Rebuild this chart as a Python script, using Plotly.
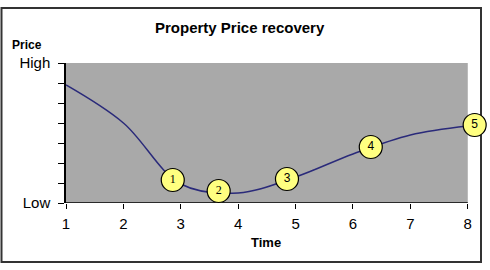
import plotly.graph_objects as go

# Curve data
time = [1, 2, 3, 4, 5, 6, 7, 8]
price = [5.9, 4.0, 0.95, 0.5, 1.3, 2.45, 3.4, 3.85]

# Numbered markers
mark_x = [2.86, 3.66, 4.85, 6.31, 8.12]
mark_y = [1.15, 0.6, 1.2, 2.8, 3.9]
mark_labels = ["1", "2", "3", "4", "5"]
mark_fonts = ["Liberation Serif", "Liberation Serif", "Liberation Sans", "Liberation Sans", "Liberation Sans"]

y_tickvals = [0, 1, 2, 3, 4, 5, 6, 7]
y_ticktext = ["Low", "", "", "", "", "", "", "High"]

X_MIN, X_MAX = 1, 8
Y_MIN, Y_MAX = 0, 7

fig = go.Figure()
fig.add_trace(go.Scatter(
    x=time, y=price, mode="lines",
    line=dict(color="#2a2a7a", width=1.5, shape="spline", smoothing=1.0),
    hoverinfo="skip", cliponaxis=False,
))
fig.add_trace(go.Scatter(
    x=mark_x, y=mark_y, mode="markers+text",
    text=mark_labels, textposition="middle center",
    textfont=dict(family=mark_fonts, size=12, color="black"),
    marker=dict(size=23, color="#ffff80", line=dict(color="black", width=1.2)),
    cliponaxis=False,
))

W0, PW, H0, PH = 66, 419, 203, 140
def px(x):
    return (x - W0) / PW
def py(y):
    return (H0 - y) / PH

fig.update_layout(
    width=490, height=270,
    margin=dict(l=66, r=5, t=63, b=67),
    paper_bgcolor="white", plot_bgcolor="white",
    showlegend=False,
    font=dict(family="Liberation Sans", color="black"),
    xaxis=dict(range=[X_MIN, 8.3], tickvals=time, ticks="outside", ticklen=5,
               tickwidth=1.2, tickcolor="black", showgrid=False, zeroline=False,
               showline=False, ticklabelstandoff=2,
               tickfont=dict(size=15, family="Liberation Sans")),
    yaxis=dict(range=[Y_MIN, Y_MAX], tickvals=y_tickvals, ticktext=y_ticktext,
               ticks="outside", ticklen=6, tickwidth=1.2, tickcolor="black",
               showgrid=False, zeroline=False, showline=True, linecolor="black",
               linewidth=1.5, ticklabelstandoff=5,
               tickfont=dict(size=15, family="Liberation Sans")),
    shapes=[
        dict(type="rect", xref="x", yref="y", x0=X_MIN, x1=X_MAX, y0=Y_MIN, y1=Y_MAX,
             line=dict(width=0), fillcolor="#a9a9a9", layer="below"),
        dict(type="line", xref="x", yref="y", x0=X_MIN, x1=X_MAX, y0=Y_MIN, y1=Y_MIN,
             line=dict(color="black", width=1.5), layer="below"),
        dict(type="rect", xref="paper", yref="paper",
             x0=px(1.5), x1=px(481), y0=py(262), y1=py(8),
             line=dict(color="#333333", width=2), fillcolor="rgba(0,0,0,0)",
             layer="below"),
    ],
    annotations=[
        dict(text="<b>Property Price recovery</b>", xref="paper", yref="paper",
             x=px(240), y=py(27), yanchor="middle", showarrow=False, font=dict(size=15)),
        dict(text="<b>Price</b>", xref="paper", yref="paper",
             x=px(10), y=py(45), xanchor="left", yanchor="middle", showarrow=False,
             font=dict(size=12)),
        dict(text="<b>Time</b>", xref="paper", yref="paper",
             x=px(266), y=py(243), yanchor="middle", showarrow=False, font=dict(size=13)),
    ],
)

fig.write_html("out.html")
